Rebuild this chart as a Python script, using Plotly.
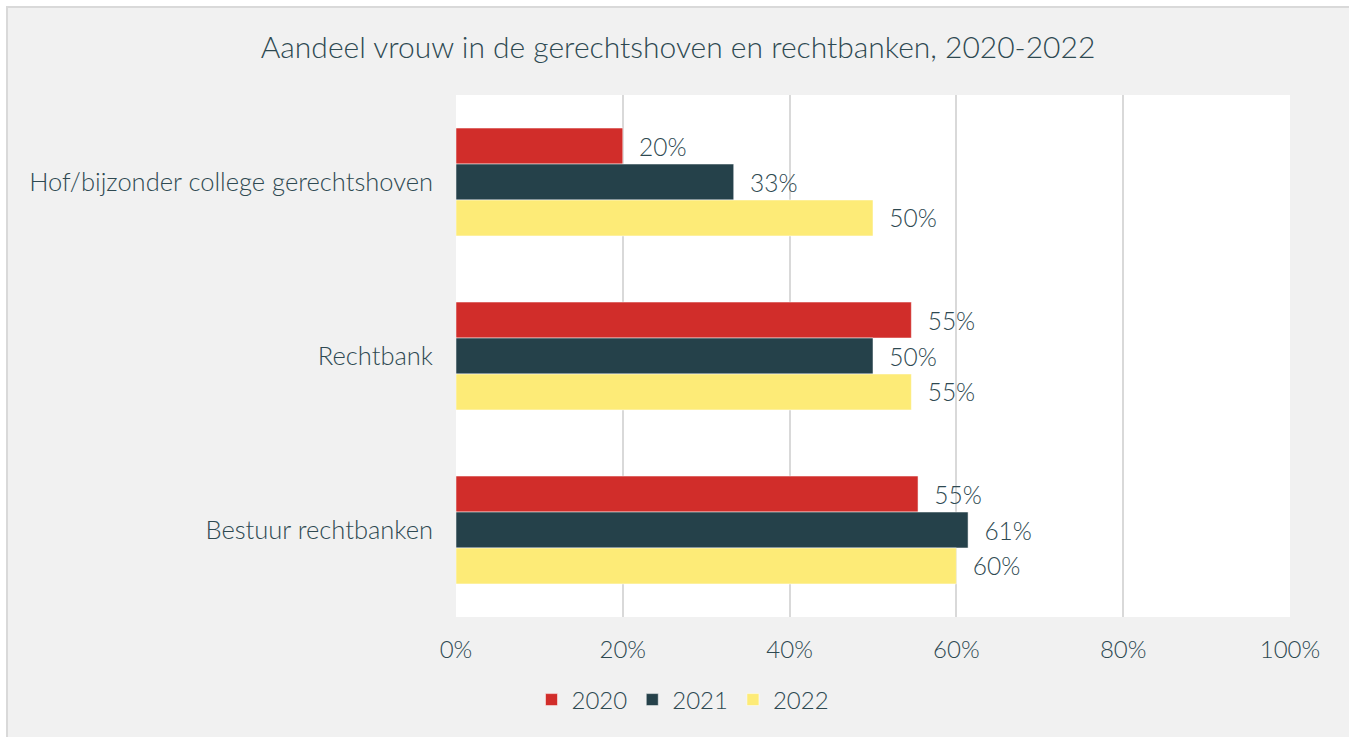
import plotly.graph_objects as go

# Data
categories = ["Hof/bijzonder college gerechtshoven", "Rechtbank", "Bestuur rechtbanken"]
years = ["2020", "2021", "2022"]
share_2020 = [0.20, 0.546, 0.554]
share_2021 = [0.333, 0.50, 0.614]
share_2022 = [0.50, 0.546, 0.60]
x_ticks = [0, 0.2, 0.4, 0.6, 0.8, 1.0]

series = [share_2020, share_2021, share_2022]
bar_colors = ["#d12d2a", "#25414a", "#fdeb77"]
text_color = "#2e4951"
font_family = "Lato, 'Noto Sans', sans-serif"

W, H = 1349, 737
L, R, T, B = 456, 59, 95, 120
pw, ph = W - L - R, H - T - B


def px_x(p):
    return (p - L) / pw


def px_y(p):
    return (H - B - p) / ph


fig = go.Figure()
for year, vals, col in zip(years, series, bar_colors):
    fig.add_trace(go.Bar(
        y=categories,
        x=vals,
        name=year,
        orientation="h",
        marker=dict(color=col, line=dict(color="rgba(255,255,255,0.5)", width=1)),
        texttemplate="\u00a0\u00a0%{x:.0%}",
        textposition="outside",
        cliponaxis=False,
        textfont=dict(size=24.5, color=text_color, family=font_family, weight=300),
        hovertemplate="%{y}<br>" + year + ": %{x:.0%}<extra></extra>",
    ))

# grey card behind the chart, plus the white plot area on top of it
fig.add_shape(type="rect", xref="paper", yref="paper",
              x0=px_x(7), x1=px_x(W + 20), y0=px_y(H + 20), y1=px_y(7),
              fillcolor="#f1f1f1", line=dict(color="#d9d9d9", width=2),
              layer="below")
fig.add_shape(type="rect", xref="paper", yref="paper",
              x0=0, x1=1, y0=0, y1=1,
              fillcolor="white", line=dict(width=0), layer="below")

fig.update_layout(
    width=W, height=H,
    margin=dict(l=L, r=R, t=T, b=B),
    paper_bgcolor="white",
    plot_bgcolor="white",
    barmode="group",
    bargap=0.38,
    bargroupgap=0,
    font=dict(family=font_family, color=text_color, size=24, weight=300),
    title=dict(
        text="Aandeel vrouw in de gerechtshoven en rechtbanken, 2020-2022",
        x=678 / W, xanchor="center",
        y=1 - 47 / H, yanchor="middle",
        font=dict(size=30, color=text_color, family=font_family, weight=300),
    ),
    xaxis=dict(
        range=[0, 1],
        tickvals=x_ticks,
        tickformat=".0%",
        showgrid=True, gridcolor="#d9d9d9", gridwidth=1.5,
        zeroline=False, showline=False,
        ticks="", ticklabelstandoff=16,
        tickfont=dict(size=24, color=text_color, weight=300),
        automargin=False, fixedrange=True,
    ),
    yaxis=dict(
        autorange="reversed",
        showgrid=False, zeroline=False, showline=False,
        ticks="", ticklabelstandoff=22,
        tickfont=dict(size=25.5, color=text_color, weight=300),
        automargin=False, fixedrange=True,
    ),
    legend=dict(
        orientation="h",
        x=px_x(683), xanchor="center",
        y=px_y(700), yanchor="middle",
        bgcolor="rgba(0,0,0,0)",
        font=dict(size=24, color=text_color, weight=300),
        itemwidth=30,
        tracegroupgap=0,
    ),
    showlegend=True,
)

# drop the default page margin so the figure sits at the window's corner
fig.write_html(
    "out.html",
    config={"displayModeBar": False},
    post_script="document.body.style.margin='0';document.body.style.overflow='hidden';",
)
